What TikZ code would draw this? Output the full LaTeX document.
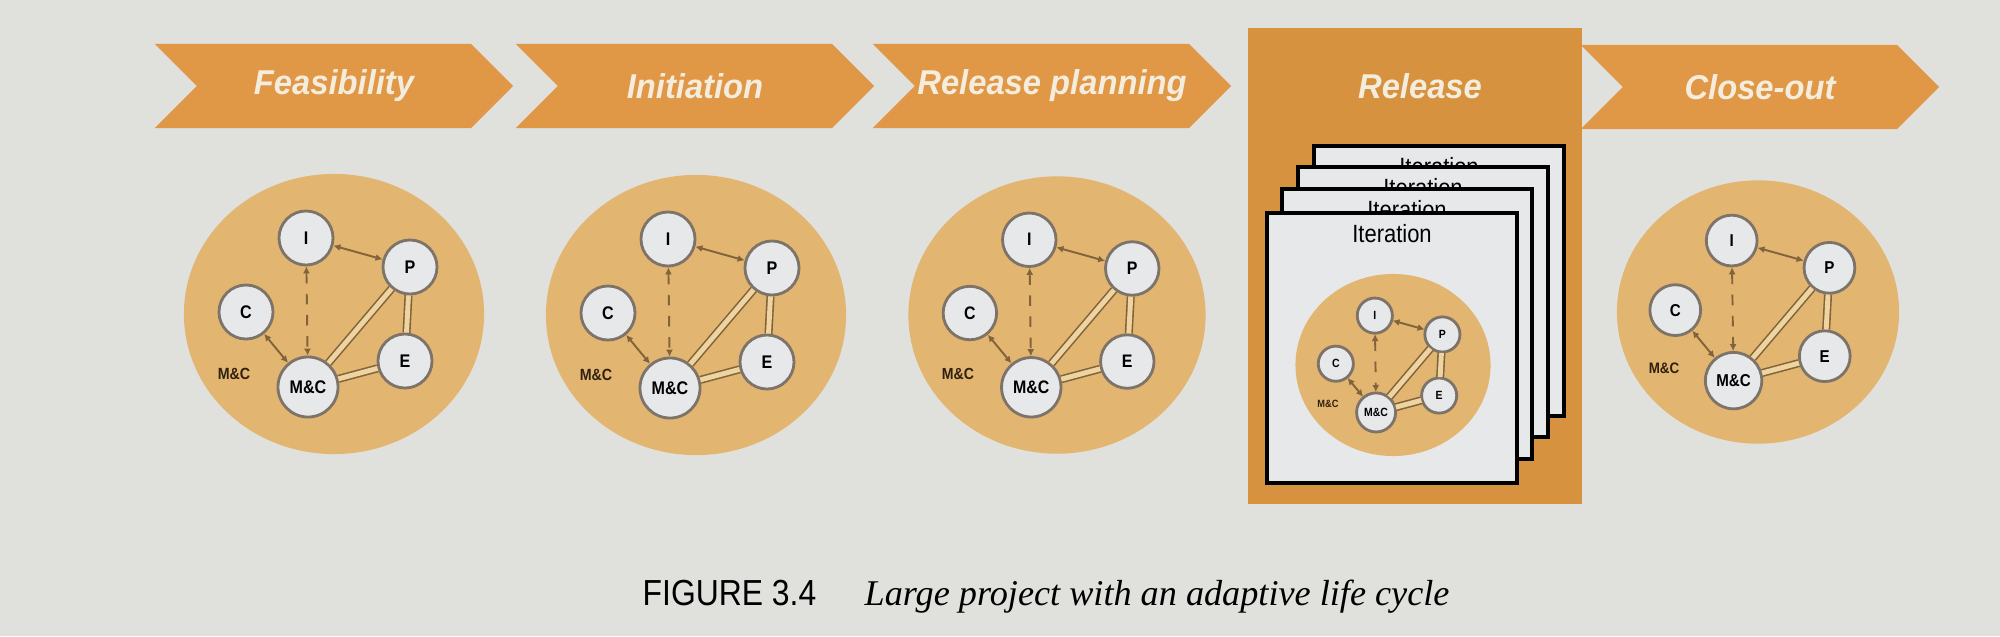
\documentclass[tikz,border=0pt]{standalone}
\usepackage{fontspec}
\newfontfamily\phasefont[FakeStretch=0.95]{Liberation Sans}
\newfontfamily\condfont[FakeStretch=0.88]{Liberation Sans}
\newfontfamily\capfont{Liberation Serif}
\usepackage{tikz}
\usetikzlibrary{shapes,arrows.meta,positioning,calc}
\definecolor{paper}{RGB}{224,224,221}
\definecolor{chev}{RGB}{224,151,70}
\definecolor{relorange}{RGB}{214,146,62}
\definecolor{ringfill}{RGB}{226,181,112}
\definecolor{memberfill}{RGB}{231,232,234}
\definecolor{memberline}{RGB}{125,115,105}
\definecolor{linkc}{RGB}{130,100,60}
\definecolor{dblfill}{RGB}{238,212,160}
\definecolor{phasetext}{RGB}{244,236,220}

% one team circle: #1 name prefix, #2 centre, #3 scale
\newcommand{\teamring}[3]{%
  \begin{scope}[shift={#2}, scale=#3, transform shape]
    \node[ring] (#1ring) at (0,0) {};
    \node[member] (#1i) at (-28,-76) {I};
    \node[member] (#1p) at (76,-47) {P};
    \node[member] (#1c) at (-88,-2) {C};
    \node[member] (#1e) at (71,47) {E};
    \node[member, minimum size=0.6cm] (#1mc) at (-26,73) {M\&C};
    \node[ringtag] (#1tag) at (-100,60) {M\&C};
    \draw[link] (#1i) -- (#1p);
    \draw[link, dashed] (#1i) -- (#1mc);
    \draw[link] (#1c) -- (#1mc);
    \draw[dlink] (#1p) -- (#1mc);
    \draw[dlink] (#1p) -- (#1e);
    \draw[dlink] (#1e) -- (#1mc);
  \end{scope}}

\begin{document}
\begin{tikzpicture}[
    x=0.01cm, y=-0.01cm,
    chevron/.style={signal, signal from=west, signal to=east, signal pointer angle=90, fill=chev, minimum width=3.58cm, minimum height=0.84cm, inner sep=0pt, text=phasetext, font={\phasefont\bfseries\itshape\fontsize{9.8}{10}\selectfont}},
    phasetitle/.style={inner sep=0pt, text=phasetext, font={\phasefont\bfseries\itshape\fontsize{9.8}{10}\selectfont}},
    ring/.style={ellipse, fill=ringfill, minimum width=3cm, minimum height=2.8cm, inner sep=0pt},
    member/.style={circle, draw=memberline, line width=0.8pt, fill=memberfill, minimum size=0.54cm, inner sep=0pt, font={\condfont\bfseries\fontsize{5.2}{6}\selectfont}},
    ringtag/.style={inner sep=0pt, text=black!75!brown, font={\condfont\bfseries\fontsize{4.6}{5}\selectfont}},
    link/.style={draw=linkc, line width=0.55pt, {Latex[length=2pt,width=2pt]}-{Latex[length=2pt,width=2pt]}},
    dlink/.style={draw=linkc, line width=0.45pt, double=dblfill, double distance=1.4pt},
    page/.style={draw=black, line width=1pt, fill=memberfill, minimum width=2.5cm, minimum height=2.7cm, inner sep=0pt},
    itertext/.style={inner sep=0pt, font={\condfont\fontsize{7.1}{8}\selectfont}},
    figlabel/.style={inner sep=0pt, font={\condfont\fontsize{10.3}{12}\selectfont}},
    figtext/.style={inner sep=0pt, font={\capfont\itshape\fontsize{10.3}{12}\selectfont}}
]

% paper
\fill[paper] (0,0) rectangle (2000,636);

% Phase arrows
\node[chevron] (feas) at (334,86) {Feasibility};
\node[chevron] (init) at (695,86) {Initiation};
\node[chevron] (plan) at (1052,86) {Release planning};
\node[chevron] (close) at (1760,87) {Close-out};

% Release block
\node[fill=relorange, minimum width=3.33cm, minimum height=4.76cm, inner sep=0pt] (relbox) at (1415,266) {};
\node[phasetitle] (reltitle) at ($(relbox.north)+(5,59)$) {Release};

% Iteration pages, back to front
\node[page] (iter4) at (1439,281) {};
\node[itertext] (iter4txt) at ($(iter4.north)+(0,22)$) {Iteration};
\node[page] (iter3) at (1423,302) {};
\node[itertext] (iter3txt) at ($(iter3.north)+(0,22)$) {Iteration};
\node[page] (iter2) at (1407,324) {};
\node[itertext] (iter2txt) at ($(iter2.north)+(0,22)$) {Iteration};
\node[page] (iter1) at (1392,348) {};
\node[itertext] (iter1txt) at ($(iter1.north)+(0,22)$) {Iteration};

% Team circles
\teamring{feas}{(334,314)}{1}
\teamring{init}{(696,315)}{1}
\teamring{plan}{(1057,315)}{0.99}
\teamring{iter}{(1393,365)}{0.65}
\teamring{close}{(1758,312)}{0.94}

% Caption
\node[figlabel, anchor=base west] (figlab) at (642,605) {FIGURE 3.4};
\node[figtext, base right=0.47cm of figlab] (figtxt) {Large project with an adaptive life cycle};

\end{tikzpicture}
\end{document}
